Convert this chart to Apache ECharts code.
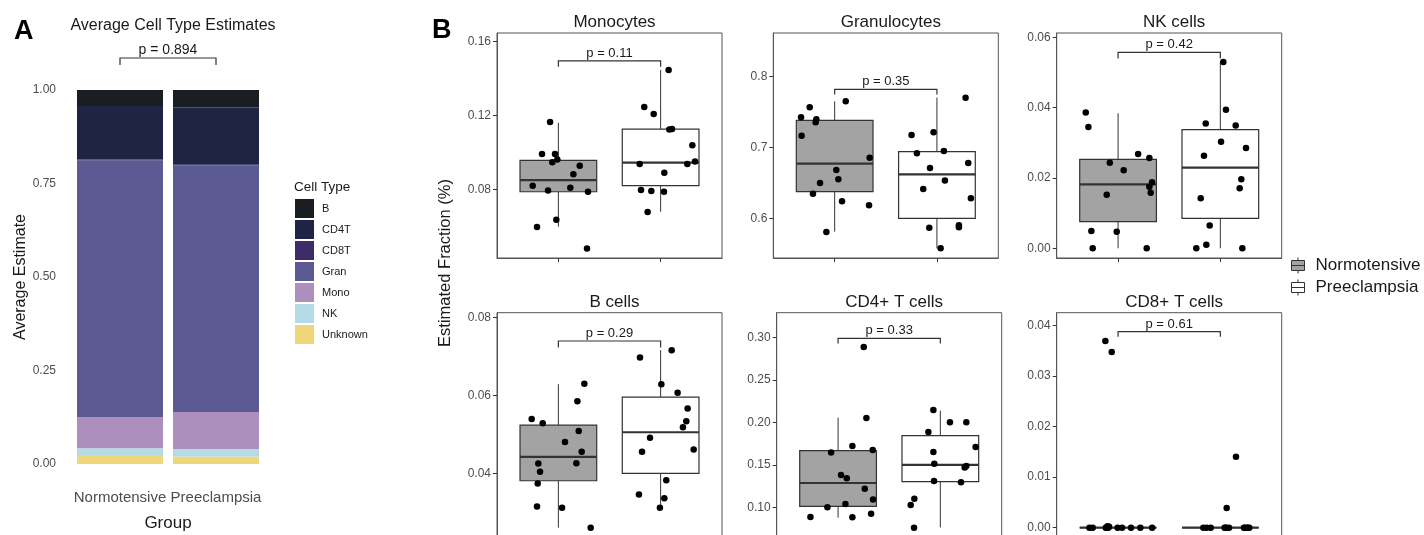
<!DOCTYPE html>
<html>
<head>
<meta charset="utf-8">
<script src="https://cdn.jsdelivr.net/npm/echarts@6/dist/echarts.min.js"></script>
<style>
html,body{margin:0;padding:0;background:#fff;overflow:hidden;width:1424px;height:535px;}
#c{width:1424px;height:560px;}
</style>
</head>
<body>
<div id="c"></div>
<script>
// ---------- Panel A data ----------
const groups = ['Normotensive', 'Preeclampsia'];
const cellTypes = ['B', 'CD4T', 'CD8T', 'Gran', 'Mono', 'NK', 'Unknown'];
const avgNormotensive = [0.043, 0.143, 0.002, 0.686, 0.084, 0.018, 0.024];
const avgPreeclampsia = [0.047, 0.153, 0.001, 0.660, 0.099, 0.020, 0.020];
const pValueA = 'p = 0.894';
const bracketA = [1.0856, 1.067];

// ---------- Panel B data ----------
const panelTitles = ['Monocytes', 'Granulocytes', 'NK cells', 'B cells', 'CD4+ T cells', 'CD8+ T cells'];
const pLabels = ['p = 0.11', 'p = 0.35', 'p = 0.42', 'p = 0.29', 'p = 0.33', 'p = 0.61'];
const bracketY = [[0.1496, 0.1465], [0.7821, 0.775], [0.0557, 0.054], [0.07394, 0.0723], [0.2992, 0.2933], [0.03875, 0.03776]];
const yTicks = [[0.08, 0.12, 0.16], [0.6, 0.7, 0.8], [0, 0.02, 0.04, 0.06], [0.04, 0.06, 0.08], [0.10, 0.15, 0.20, 0.25, 0.30], [0, 0.01, 0.02, 0.03, 0.04]];
const yRange = [[0.0431, 0.1647], [0.5439, 0.8617], [-0.00276, 0.06122], [0.02286, 0.08118], [0.0607, 0.3295], [-0.00257, 0.04249]];
const yDecimals = [2, 1, 2, 2, 2, 2];

// box stats: [lower whisker, Q1, median, Q3, upper whisker]
const monoBoxN = [0.060, 0.0789, 0.0852, 0.0959, 0.1162];
const monoBoxP = [0.0681, 0.0822, 0.0946, 0.1128, 0.1447];
const monoN = [0.1166, 0.0993, 0.0993, 0.0948, 0.0964, 0.0930, 0.0883, 0.0822, 0.0796, 0.0811, 0.0789, 0.0638, 0.0598, 0.0483];
const monoNJit = [-0.081, -0.160, -0.033, -0.059, -0.010, 0.209, 0.147, -0.251, -0.101, 0.117, 0.290, -0.020, -0.209, 0.280];
const monoP = [0.1447, 0.1247, 0.1209, 0.1126, 0.1128, 0.1041, 0.0939, 0.0953, 0.0939, 0.0892, 0.0798, 0.0793, 0.0789, 0.0679];
const monoPJit = [0.078, -0.160, -0.068, 0.085, 0.111, 0.310, -0.205, 0.336, 0.261, 0.036, -0.192, -0.091, 0.033, -0.127];

const granBoxN = [0.5812, 0.6376, 0.6772, 0.7384, 0.7652];
const granBoxP = [0.5576, 0.6000, 0.6621, 0.6941, 0.7704];
const granN = [0.7567, 0.7652, 0.7426, 0.7398, 0.7355, 0.7167, 0.6856, 0.6682, 0.6551, 0.6499, 0.6348, 0.6240, 0.6184, 0.5807];
const granNJit = [-0.244, 0.108, -0.329, -0.179, -0.186, -0.323, 0.342, 0.016, 0.036, -0.143, -0.212, 0.072, 0.336, -0.081];
const granP = [0.7704, 0.7214, 0.7176, 0.6951, 0.6918, 0.6781, 0.6711, 0.6532, 0.6414, 0.6282, 0.5901, 0.5873, 0.5868, 0.5576];
const granPJit = [0.280, -0.033, -0.248, 0.068, -0.196, 0.306, -0.068, 0.078, -0.134, 0.332, 0.215, 0.215, -0.075, 0.036];

const nkBoxN = [0, 0.00758, 0.0182, 0.02531, 0.0384];
const nkBoxP = [0, 0.00853, 0.02294, 0.03374, 0.0531];
const nkN = [0.0386, 0.0345, 0.0268, 0.0257, 0.0243, 0.0222, 0.0188, 0.0175, 0.0158, 0.0152, 0.0049, 0.0047, 0, 0];
const nkNJit = [-0.316, -0.290, 0.196, 0.306, -0.081, 0.055, 0.332, 0.306, 0.319, -0.111, -0.261, -0.013, -0.248, 0.280];
const nkP = [0.0530, 0.0394, 0.0355, 0.0349, 0.0303, 0.0285, 0.0263, 0.0196, 0.0171, 0.0142, 0.0065, 0.0010, 0, 0];
const nkPJit = [0.029, 0.055, -0.143, 0.150, 0.007, 0.251, -0.160, 0.205, 0.189, -0.192, -0.104, -0.137, -0.235, 0.215];

const bBoxN = [0.0262, 0.0382, 0.0443, 0.0524, 0.0629];
const bBoxP = [0.0316, 0.0401, 0.0506, 0.0596, 0.0716];
const bN = [0.0630, 0.0585, 0.0540, 0.0529, 0.0509, 0.0481, 0.0456, 0.0426, 0.0427, 0.0405, 0.0375, 0.0316, 0.0313, 0.0262];
const bNJit = [0.254, 0.186, -0.261, -0.153, 0.199, 0.065, 0.228, -0.196, 0.176, -0.179, -0.202, -0.209, 0.036, 0.316];
const bP = [0.0716, 0.0697, 0.0629, 0.0607, 0.0567, 0.0534, 0.0519, 0.0492, 0.0462, 0.0456, 0.0383, 0.0347, 0.0337, 0.0313];
const bPJit = [0.108, -0.202, 0.007, 0.166, 0.264, 0.251, 0.218, -0.104, 0.323, -0.182, 0.055, -0.212, 0.036, -0.007];

const cd4BoxN = [0.0878, 0.1012, 0.1287, 0.1668, 0.2057];
const cd4BoxP = [0.0764, 0.1303, 0.1500, 0.1845, 0.2139];
const cd4N = [0.289, 0.2053, 0.1723, 0.1648, 0.1676, 0.1381, 0.1342, 0.1220, 0.1094, 0.1000, 0.1039, 0.0886, 0.0882, 0.0925];
const cd4NJit = [0.251, 0.277, 0.140, -0.068, 0.339, 0.029, 0.085, 0.261, 0.342, -0.104, 0.072, -0.270, 0.140, 0.323];
const cd4P = [0.2147, 0.2002, 0.2002, 0.1888, 0.1711, 0.1652, 0.1515, 0.1487, 0.1471, 0.1310, 0.1295, 0.1102, 0.1027, 0.0760];
const cd4PJit = [-0.068, 0.094, 0.254, -0.117, 0.345, -0.068, -0.059, 0.254, 0.238, -0.062, 0.202, -0.254, -0.290, -0.257];

const cd8BoxN = [0, 0, 0, 0, 0];
const cd8BoxP = [0, 0, 0, 0, 0];
const cd8N = [0.0369, 0.0347, 0.0003, 0.0002, 0, 0, 0, 0, 0, 0, 0, 0, 0, 0];
const cd8NJit = [-0.124, -0.062, -0.104, -0.088, -0.280, -0.248, -0.114, -0.004, 0.039, 0.127, 0.218, 0.333, -0.120, -0.096];
const cd8P = [0.0140, 0.0039, 0, 0, 0, 0, 0, 0, 0, 0, 0, 0, 0, 0];
const cd8PJit = [0.153, 0.062, -0.166, -0.133, -0.094, 0.042, 0.085, 0.231, 0.258, 0.283, 0.060, 0.238, 0.268, 0.050];

const boxesN = [monoBoxN, granBoxN, nkBoxN, bBoxN, cd4BoxN, cd8BoxN];
const boxesP = [monoBoxP, granBoxP, nkBoxP, bBoxP, cd4BoxP, cd8BoxP];
const ptsN = [monoN, granN, nkN, bN, cd4N, cd8N];
const jitN = [monoNJit, granNJit, nkNJit, bNJit, cd4NJit, cd8NJit];
const ptsP = [monoP, granP, nkP, bP, cd4P, cd8P];
const jitP = [monoPJit, granPJit, nkPJit, bPJit, cd4PJit, cd8PJit];

// ---------- Styles / layout ----------
const FONT = '"Liberation Sans", Arial, Helvetica, sans-serif';
const cellColors = {B: '#1a1d22', CD4T: '#1f2444', CD8T: '#3d2c69', Gran: '#5c5a92', Mono: '#ad8fbd', NK: '#b3dce6', Unknown: '#f0d67a'};
const groupColors = {Normotensive: '#a3a3a3', Preeclampsia: '#ffffff'};
const gridPos = [[497, 33], [773.3, 33], [1056.7, 33], [497, 312.7], [776.7, 312.7], [1056.7, 312.7]];
const gridH = [225, 225, 225, 228, 228, 228];
const PW = 225;

const chart = echarts.init(document.getElementById('c'), null, {renderer: 'canvas'});

const grids = [{left: 72, top: 90, width: 192, height: 374}];
const xAxes = [{
  type: 'category', gridIndex: 0, data: groups,
  axisLine: {show: false}, axisTick: {show: false},
  axisLabel: {interval: 0, hideOverlap: false, margin: 26, fontSize: 15, color: '#4d4d4d', fontFamily: FONT},
  name: 'Group', nameLocation: 'middle', nameGap: 51,
  nameTextStyle: {fontSize: 17, color: '#1a1a1a', fontFamily: FONT}
}];
const yAxes = [{
  type: 'value', gridIndex: 0, min: 0, max: 1, interval: 0.25,
  splitLine: {show: false}, axisLine: {show: false}, axisTick: {show: false},
  axisLabel: {margin: 16, fontSize: 12, color: '#4d4d4d', fontFamily: FONT, formatter: v => v.toFixed(2)},
  name: 'Average Estimate', nameLocation: 'middle', nameGap: 43,
  nameTextStyle: {fontSize: 16, color: '#1a1a1a', fontFamily: FONT}
}];
const titles = [{
  text: 'Average Cell Type Estimates', left: 168, top: 13, textAlign: 'center',
  textStyle: {fontSize: 16, fontWeight: 'normal', color: '#1a1a1a', fontFamily: FONT}
}];
const series = [];

// Panel A stacked bars (bottom first)
for (let i = cellTypes.length - 1; i >= 0; i--) {
  const ct = cellTypes[i];
  series.push({
    type: 'bar', name: ct, stack: 'avg', xAxisIndex: 0, yAxisIndex: 0,
    barWidth: 86, data: [avgNormotensive[i], avgPreeclampsia[i]],
    itemStyle: {color: cellColors[ct]}, emphasis: {disabled: true}
  });
}
// Panel A bracket
series.push({
  type: 'custom', xAxisIndex: 0, yAxisIndex: 0, clip: false, silent: true,
  data: [[0, 1, bracketA[0], bracketA[1]]],
  renderItem: function (params, api) {
    const a = api.coord([api.value(0), api.value(2)]);
    const b = api.coord([api.value(1), api.value(2)]);
    const a2 = api.coord([api.value(0), api.value(3)]);
    const b2 = api.coord([api.value(1), api.value(3)]);
    return {type: 'group', children: [
      {type: 'polyline', shape: {points: [a2, a, b, b2]}, style: {stroke: '#333', lineWidth: 1.2, fill: null}},
      {type: 'text', x: (a[0] + b[0]) / 2, y: a[1] - 1, style: {text: pValueA, fontSize: 14, fontFamily: FONT, fill: '#1a1a1a', align: 'center', verticalAlign: 'bottom'}}
    ]};
  }
});

function boxRender(params, api) {
  const cat = api.value(0), lo = api.value(1), q1 = api.value(2), med = api.value(3), q3 = api.value(4), hi = api.value(5);
  const hw = 0.375;
  const tl = api.coord([cat - hw, q3]);
  const br = api.coord([cat + hw, q1]);
  const wTop = api.coord([cat, hi]), wQ3 = api.coord([cat, q3]);
  const wQ1 = api.coord([cat, q1]), wBot = api.coord([cat, lo]);
  const mL = api.coord([cat - hw, med]), mR = api.coord([cat + hw, med]);
  const fill = api.visual('color');
  return {type: 'group', children: [
    {type: 'line', shape: {x1: wTop[0], y1: wTop[1], x2: wQ3[0], y2: wQ3[1]}, style: {stroke: '#333', lineWidth: 1}},
    {type: 'line', shape: {x1: wQ1[0], y1: wQ1[1], x2: wBot[0], y2: wBot[1]}, style: {stroke: '#333', lineWidth: 1}},
    {type: 'rect', shape: {x: tl[0], y: tl[1], width: br[0] - tl[0], height: br[1] - tl[1]}, style: {fill: fill, stroke: '#333', lineWidth: 1.2}},
    {type: 'line', shape: {x1: mL[0], y1: mL[1], x2: mR[0], y2: mR[1]}, style: {stroke: '#333', lineWidth: 2.2}}
  ]};
}

for (let p = 0; p < 6; p++) {
  const gi = p + 1;
  grids.push({left: gridPos[p][0], top: gridPos[p][1], width: PW, height: gridH[p], show: true, borderColor: '#555', borderWidth: 1, backgroundColor: 'transparent'});
  xAxes.push({
    type: 'value', gridIndex: gi, min: 0.4, max: 2.6,
    splitLine: {show: false},
    axisLine: {show: true, onZero: false, lineStyle: {color: '#555', width: 1}},
    axisTick: {show: true, customValues: [1, 2], length: 4, lineStyle: {color: '#333'}},
    axisLabel: {show: false}
  });
  const dec = yDecimals[p];
  yAxes.push({
    type: 'value', gridIndex: gi, min: yRange[p][0], max: yRange[p][1],
    splitLine: {show: false},
    axisLine: {show: true, onZero: false, lineStyle: {color: '#555', width: 1}},
    axisTick: {show: true, customValues: yTicks[p], length: 4, lineStyle: {color: '#333'}},
    axisLabel: {customValues: yTicks[p], margin: 6, fontSize: 12, color: '#4d4d4d', fontFamily: FONT, formatter: v => Number(v).toFixed(dec)}
  });
  titles.push({
    text: panelTitles[p], left: gridPos[p][0] + PW / 2, top: gridPos[p][1] - 24, textAlign: 'center',
    textStyle: {fontSize: 17, fontWeight: 'normal', color: '#1a1a1a', fontFamily: FONT}
  });
  series.push({
    type: 'custom', name: 'Normotensive', xAxisIndex: gi, yAxisIndex: gi, silent: true,
    itemStyle: {color: groupColors.Normotensive},
    data: [[1].concat(boxesN[p])], renderItem: boxRender
  });
  series.push({
    type: 'custom', name: 'Preeclampsia', xAxisIndex: gi, yAxisIndex: gi, silent: true,
    itemStyle: {color: groupColors.Preeclampsia},
    data: [[2].concat(boxesP[p])], renderItem: boxRender
  });
  const pts = [];
  ptsN[p].forEach((v, i) => pts.push([1 + jitN[p][i], v]));
  ptsP[p].forEach((v, i) => pts.push([2 + jitP[p][i], v]));
  series.push({
    type: 'scatter', name: 'points', xAxisIndex: gi, yAxisIndex: gi, silent: true,
    symbolSize: 6.5, itemStyle: {color: '#000', opacity: 1}, data: pts, z: 5
  });
  const lab = pLabels[p];
  series.push({
    type: 'custom', name: 'bracket', xAxisIndex: gi, yAxisIndex: gi, clip: false, silent: true, z: 6,
    data: [[1, 2, bracketY[p][0], bracketY[p][1]]],
    renderItem: function (params, api) {
      const a = api.coord([api.value(0), api.value(2)]);
      const b = api.coord([api.value(1), api.value(2)]);
      const a2 = api.coord([api.value(0), api.value(3)]);
      const b2 = api.coord([api.value(1), api.value(3)]);
      return {type: 'group', children: [
        {type: 'polyline', shape: {points: [a2, a, b, b2]}, style: {stroke: '#333', lineWidth: 1.2, fill: null}},
        {type: 'text', x: (a[0] + b[0]) / 2, y: a[1] - 1, style: {text: lab, fontSize: 13, fontFamily: FONT, fill: '#1a1a1a', align: 'center', verticalAlign: 'bottom'}}
      ]};
    }
  });
}

const boxIcon = 'path://M6.5,0L6.5,3M0,3L13,3L13,13L0,13ZM0,8L13,8M6.5,13L6.5,16';

const option = {
  animation: false,
  backgroundColor: '#fff',
  textStyle: {fontFamily: FONT},
  title: titles,
  grid: grids,
  xAxis: xAxes,
  yAxis: yAxes,
  legend: [
    {
      data: cellTypes, orient: 'vertical', left: 290, top: 194,
      itemWidth: 19, itemHeight: 19, itemGap: 2, icon: 'rect', selectedMode: false,
      textStyle: {fontSize: 11, color: '#1a1a1a', fontFamily: FONT, lineHeight: 19, padding: [0, 0, 0, 3]}
    },
    {
      data: [
        {name: 'Normotensive', icon: boxIcon, itemStyle: {color: groupColors.Normotensive, borderColor: '#333', borderWidth: 1}},
        {name: 'Preeclampsia', icon: boxIcon, itemStyle: {color: groupColors.Preeclampsia, borderColor: '#333', borderWidth: 1}}
      ],
      orient: 'vertical', left: 1286, top: 252,
      itemWidth: 13, itemHeight: 16, itemGap: 5, selectedMode: false,
      textStyle: {fontSize: 17, color: '#1a1a1a', fontFamily: FONT, lineHeight: 16, padding: [0, 0, 0, 6]}
    }
  ],
  graphic: [
    {type: 'text', left: 14, top: 18, style: {text: 'A', font: 'bold 27px ' + FONT, fill: '#000'}},
    {type: 'text', left: 432, top: 17, style: {text: 'B', font: 'bold 27px ' + FONT, fill: '#000'}},
    {type: 'text', left: 294, top: 180, style: {text: 'Cell Type', fontSize: 13.5, fontFamily: FONT, fill: '#1a1a1a'}},
    {type: 'text', x: 445, y: 263, rotation: Math.PI / 2, style: {text: 'Estimated Fraction (%)', fontSize: 16.5, fontFamily: FONT, fill: '#1a1a1a', align: 'center', verticalAlign: 'middle'}}
  ],
  series: series
};
chart.setOption(option);
</script>
</body>
</html>
